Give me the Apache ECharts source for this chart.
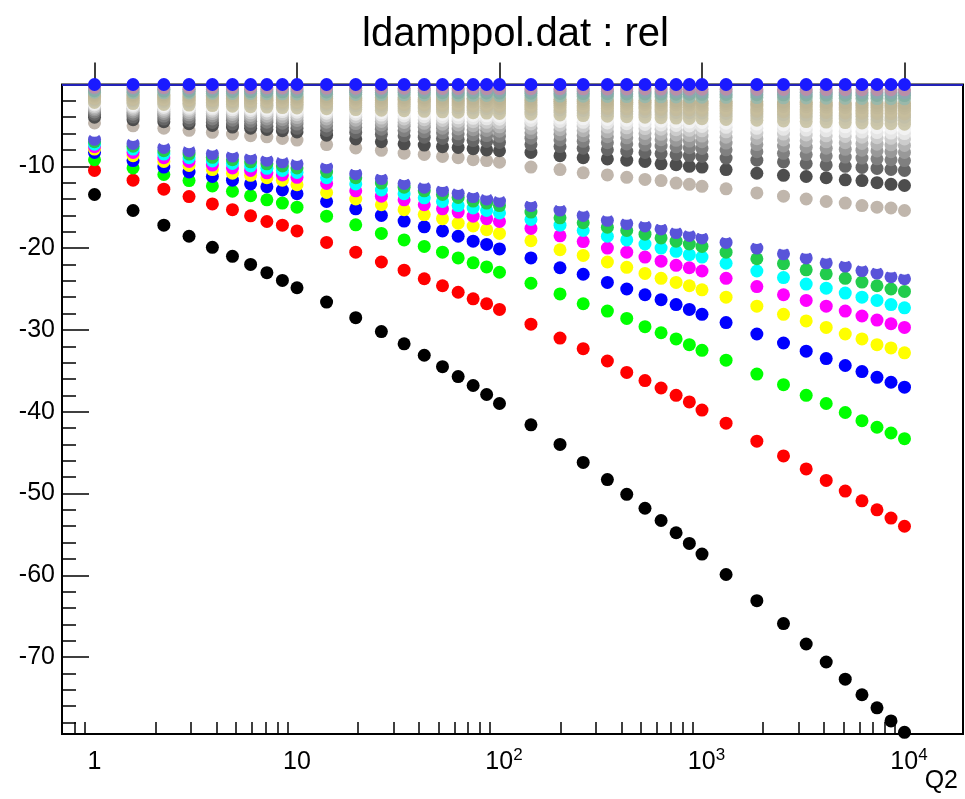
<!DOCTYPE html>
<html>
<head>
<meta charset="utf-8">
<title>ldamppol.dat : rel</title>
<script src="https://cdn.jsdelivr.net/npm/echarts@6.0.0/dist/echarts.min.js"></script>
<style>
  html, body { margin: 0; padding: 0; background: #ffffff; }
  #chart { width: 965px; height: 799px; }
</style>
</head>
<body>
<div id="chart"></div>
<script>
// Q2 grid (x positions of every column of points)
const q2 = [1, 1.55, 2.2, 2.93, 3.82, 4.8, 5.9, 7.1, 8.47, 10,
  14, 19.5, 26.1, 33.8, 42.5, 52.3, 62.5, 74.1, 86.4, 100,
  143, 199, 259, 341, 425, 523, 628, 745, 866, 1000,
  1315, 1866, 2526, 3270, 4106, 5098, 6166, 7314, 8578, 10000];

// relative deviation per curve, one array per curve
const rel01 = [-13.45, -15.4, -17.2, -18.55, -19.9, -21.0, -22.0, -23.0, -23.95, -24.85, -26.6, -28.5, -30.2, -31.7, -33.1, -34.5, -35.7, -36.8, -37.9, -39.0, -41.6, -44.0, -46.2, -48.3, -50.1, -51.8, -53.3, -54.8, -56.1, -57.4, -59.9, -63.1, -65.9, -68.4, -70.6, -72.7, -74.6, -76.2, -77.8, -79.2];
const rel02 = [-10.5, -11.7, -12.8, -13.7, -14.6, -15.3, -16.05, -16.75, -17.2, -17.9, -19.3, -20.5, -21.7, -22.7, -23.75, -24.6, -25.4, -26.2, -26.8, -27.5, -29.3, -31.0, -32.3, -33.8, -35.2, -36.2, -37.1, -38.0, -38.8, -39.8, -41.4, -43.6, -45.4, -47.0, -48.4, -49.7, -50.9, -52.0, -53.0, -54.0];
const rel03 = [-9.2, -10.2, -11.0, -11.75, -12.4, -13.05, -13.6, -14.1, -14.5, -15.0, -16.1, -17.15, -18.2, -19.0, -19.8, -20.5, -21.2, -21.8, -22.3, -22.95, -24.3, -25.6, -26.8, -27.7, -28.6, -29.6, -30.35, -31.1, -31.8, -32.5, -33.7, -35.4, -36.7, -38.0, -39.0, -40.1, -41.1, -41.9, -42.6, -43.3];
const rel04 = [-8.3, -9.3, -10.1, -10.7, -11.25, -11.7, -12.15, -12.5, -12.9, -13.35, -14.3, -15.2, -16.0, -16.7, -17.4, -17.9, -18.55, -19.15, -19.55, -20.1, -21.2, -22.4, -23.2, -24.2, -25.0, -25.7, -26.3, -26.9, -27.5, -28.1, -29.1, -30.5, -31.6, -32.6, -33.5, -34.35, -35.1, -35.8, -36.4, -37.0];
const rel05 = [-7.9, -8.7, -9.4, -9.9, -10.4, -10.85, -11.1, -11.4, -11.7, -12.25, -13.2, -14.0, -14.7, -15.3, -15.9, -16.4, -16.95, -17.3, -17.75, -18.2, -19.1, -20.2, -20.9, -21.7, -22.35, -23.1, -23.7, -24.2, -24.6, -25.1, -26.0, -27.1, -28.1, -28.9, -29.7, -30.5, -31.1, -31.8, -32.2, -32.8];
const rel06 = [-7.6, -8.3, -8.95, -9.4, -9.85, -10.2, -10.5, -10.8, -11.05, -11.35, -12.1, -13.0, -13.65, -14.1, -14.7, -15.2, -15.6, -16.1, -16.4, -16.75, -17.6, -18.5, -19.2, -20.0, -20.5, -21.1, -21.6, -22.1, -22.4, -22.8, -23.7, -24.7, -25.7, -26.4, -27.1, -27.7, -28.3, -28.8, -29.25, -29.7];
const rel07 = [-7.3, -7.9, -8.5, -8.95, -9.35, -9.65, -9.95, -10.25, -10.5, -10.75, -11.4, -12.15, -12.9, -13.35, -13.85, -14.3, -14.8, -15.1, -15.4, -15.7, -16.5, -17.2, -17.85, -18.55, -19.0, -19.5, -20.0, -20.4, -20.8, -21.1, -21.85, -22.8, -23.6, -24.4, -24.9, -25.5, -26.0, -26.4, -26.9, -27.3];
const rel08 = [-7.0, -7.55, -8.1, -8.5, -8.9, -9.2, -9.45, -9.7, -9.95, -10.2, -10.7, -11.4, -12.05, -12.55, -13.0, -13.45, -13.8, -14.25, -14.5, -14.8, -15.6, -16.3, -16.9, -17.45, -17.85, -18.3, -18.75, -19.15, -19.5, -19.8, -20.5, -21.3, -21.9, -22.65, -23.15, -23.7, -24.15, -24.6, -25.0, -25.3];
const rel09 = [-6.7, -7.2, -7.7, -8.1, -8.45, -8.75, -9.0, -9.25, -9.45, -9.7, -10.1, -10.9, -11.5, -12.1, -12.55, -12.95, -13.3, -13.7, -14.0, -14.25, -14.8, -15.35, -16.0, -16.6, -17.0, -17.3, -17.65, -18.1, -18.45, -18.75, -19.3, -20.0, -20.7, -21.2, -21.8, -22.2, -22.75, -23.05, -23.5, -23.75];
const rel10 = [-5.6, -6.1, -6.6, -7.0, -7.3, -7.6, -7.85, -8.1, -8.3, -8.55, -8.95, -9.7, -10.3, -10.9, -11.35, -11.75, -12.1, -12.5, -12.8, -13.05, -13.6, -14.1, -14.75, -15.35, -15.75, -16.05, -16.4, -16.85, -17.2, -17.5, -18.0, -18.7, -19.4, -19.9, -20.5, -20.9, -21.45, -21.75, -22.2, -22.45];
const rel11 = [-4.7, -5.05, -5.35, -5.6, -5.85, -6.05, -6.25, -6.4, -6.6, -6.8, -7.35, -7.75, -8.05, -8.4, -8.55, -8.8, -8.95, -9.2, -9.3, -9.5, -10.1, -10.4, -10.8, -11.05, -11.35, -11.6, -11.75, -12.05, -12.2, -12.45, -12.75, -13.25, -13.65, -14.0, -14.3, -14.5, -14.8, -15.0, -15.1, -15.4];
const rel12 = [-4.0, -4.3, -4.55, -4.8, -5.0, -5.2, -5.35, -5.5, -5.65, -5.8, -6.2, -6.65, -7.0, -7.25, -7.4, -7.6, -7.7, -7.85, -8.0, -8.1, -8.3, -8.7, -8.95, -9.1, -9.25, -9.4, -9.7, -9.8, -10.0, -10.1, -10.4, -10.85, -11.1, -11.25, -11.4, -11.65, -11.75, -12.0, -12.2, -12.35];
const rel13 = [-3.65, -3.98, -4.23, -4.46, -4.64, -4.82, -4.97, -5.11, -5.24, -5.36, -5.62, -5.86, -6.08, -6.27, -6.44, -6.6, -6.73, -6.85, -6.97, -7.08, -7.35, -7.59, -7.79, -7.98, -8.15, -8.31, -8.45, -8.57, -8.69, -8.79, -8.99, -9.25, -9.47, -9.66, -9.83, -10.0, -10.14, -10.26, -10.38, -10.5];
const rel14 = [-3.35, -3.63, -3.86, -4.05, -4.21, -4.36, -4.5, -4.61, -4.73, -4.84, -5.06, -5.27, -5.46, -5.63, -5.78, -5.91, -6.03, -6.13, -6.24, -6.33, -6.56, -6.77, -6.95, -7.11, -7.26, -7.4, -7.52, -7.62, -7.72, -7.81, -7.99, -8.21, -8.41, -8.57, -8.72, -8.87, -8.99, -9.09, -9.2, -9.3];
const rel15 = [-3.1, -3.35, -3.54, -3.71, -3.85, -3.98, -4.1, -4.21, -4.31, -4.4, -4.6, -4.78, -4.95, -5.09, -5.22, -5.34, -5.44, -5.53, -5.62, -5.7, -5.91, -6.09, -6.25, -6.39, -6.52, -6.64, -6.74, -6.83, -6.92, -7.0, -7.16, -7.35, -7.52, -7.66, -7.79, -7.92, -8.03, -8.12, -8.21, -8.3];
const rel16 = [-2.9, -3.12, -3.29, -3.44, -3.56, -3.67, -3.78, -3.87, -3.96, -4.04, -4.21, -4.37, -4.52, -4.64, -4.75, -4.86, -4.95, -5.03, -5.11, -5.18, -5.36, -5.52, -5.65, -5.78, -5.89, -5.99, -6.09, -6.17, -6.24, -6.31, -6.45, -6.62, -6.77, -6.89, -7.01, -7.12, -7.21, -7.29, -7.37, -7.45];
const rel17 = [-2.7, -2.89, -3.04, -3.16, -3.27, -3.37, -3.46, -3.54, -3.62, -3.69, -3.84, -3.97, -4.1, -4.21, -4.31, -4.4, -4.48, -4.55, -4.62, -4.68, -4.83, -4.97, -5.09, -5.2, -5.3, -5.39, -5.47, -5.53, -5.6, -5.66, -5.78, -5.93, -6.06, -6.17, -6.27, -6.36, -6.44, -6.51, -6.58, -6.65];
const rel18 = [-2.5, -2.67, -2.8, -2.91, -3.01, -3.1, -3.17, -3.24, -3.31, -3.38, -3.51, -3.63, -3.74, -3.84, -3.93, -4.0, -4.08, -4.14, -4.2, -4.25, -4.39, -4.51, -4.62, -4.71, -4.8, -4.88, -4.95, -5.01, -5.07, -5.13, -5.23, -5.36, -5.48, -5.57, -5.66, -5.75, -5.82, -5.88, -5.94, -6.0];
const rel19 = [-2.35, -2.5, -2.61, -2.71, -2.79, -2.87, -2.94, -3.0, -3.06, -3.11, -3.23, -3.33, -3.43, -3.52, -3.59, -3.66, -3.72, -3.78, -3.83, -3.88, -4.0, -4.1, -4.2, -4.28, -4.36, -4.42, -4.49, -4.54, -4.59, -4.64, -4.73, -4.84, -4.94, -5.03, -5.1, -5.18, -5.24, -5.29, -5.35, -5.4];
const rel20 = [-2.2, -2.33, -2.43, -2.51, -2.58, -2.65, -2.71, -2.76, -2.82, -2.86, -2.96, -3.06, -3.14, -3.21, -3.28, -3.34, -3.39, -3.44, -3.49, -3.53, -3.63, -3.72, -3.8, -3.88, -3.94, -4.0, -4.06, -4.1, -4.15, -4.19, -4.27, -4.37, -4.45, -4.53, -4.59, -4.66, -4.71, -4.76, -4.8, -4.85];
const rel21 = [-2.05, -2.16, -2.25, -2.33, -2.39, -2.45, -2.5, -2.55, -2.6, -2.64, -2.73, -2.81, -2.88, -2.95, -3.01, -3.06, -3.11, -3.15, -3.19, -3.23, -3.32, -3.4, -3.47, -3.54, -3.6, -3.65, -3.7, -3.74, -3.78, -3.81, -3.88, -3.97, -4.05, -4.11, -4.17, -4.23, -4.28, -4.32, -4.36, -4.4];
const rel22 = [-1.9, -2.0, -2.08, -2.15, -2.21, -2.26, -2.3, -2.35, -2.39, -2.43, -2.5, -2.58, -2.65, -2.7, -2.76, -2.8, -2.85, -2.88, -2.92, -2.95, -3.03, -3.11, -3.17, -3.23, -3.28, -3.33, -3.37, -3.41, -3.44, -3.48, -3.54, -3.62, -3.69, -3.74, -3.8, -3.85, -3.89, -3.93, -3.96, -4.0];
const rel23 = [-1.75, -1.84, -1.91, -1.97, -2.02, -2.07, -2.11, -2.14, -2.18, -2.21, -2.28, -2.35, -2.41, -2.46, -2.5, -2.55, -2.58, -2.62, -2.65, -2.68, -2.75, -2.81, -2.87, -2.92, -2.97, -3.01, -3.05, -3.08, -3.11, -3.14, -3.19, -3.26, -3.32, -3.37, -3.42, -3.47, -3.5, -3.54, -3.57, -3.6];
const rel24 = [-1.6, -1.68, -1.74, -1.79, -1.84, -1.88, -1.92, -1.95, -1.98, -2.01, -2.07, -2.13, -2.19, -2.23, -2.27, -2.31, -2.34, -2.37, -2.4, -2.43, -2.49, -2.55, -2.6, -2.64, -2.69, -2.72, -2.76, -2.78, -2.81, -2.84, -2.89, -2.95, -3.0, -3.05, -3.09, -3.13, -3.16, -3.19, -3.22, -3.25];
const rel25 = [-1.45, -1.52, -1.57, -1.62, -1.66, -1.7, -1.73, -1.76, -1.79, -1.81, -1.87, -1.92, -1.97, -2.01, -2.04, -2.07, -2.1, -2.13, -2.15, -2.18, -2.23, -2.28, -2.33, -2.37, -2.4, -2.44, -2.47, -2.49, -2.52, -2.54, -2.58, -2.64, -2.68, -2.72, -2.76, -2.8, -2.82, -2.85, -2.88, -2.9];
const rel26 = [-1.3, -1.36, -1.41, -1.45, -1.49, -1.52, -1.55, -1.58, -1.6, -1.63, -1.67, -1.72, -1.76, -1.8, -1.83, -1.86, -1.89, -1.91, -1.93, -1.95, -2.0, -2.05, -2.09, -2.12, -2.16, -2.18, -2.21, -2.23, -2.26, -2.28, -2.31, -2.36, -2.41, -2.44, -2.47, -2.51, -2.53, -2.56, -2.58, -2.6];
const rel27 = [-1.15, -1.21, -1.25, -1.29, -1.32, -1.35, -1.37, -1.39, -1.42, -1.44, -1.48, -1.52, -1.56, -1.59, -1.62, -1.65, -1.67, -1.69, -1.71, -1.73, -1.77, -1.81, -1.85, -1.88, -1.91, -1.93, -1.96, -1.98, -2.0, -2.01, -2.05, -2.09, -2.13, -2.16, -2.19, -2.22, -2.24, -2.26, -2.28, -2.3];
const rel28 = [-0.95, -0.99, -1.02, -1.04, -1.07, -1.09, -1.1, -1.12, -1.14, -1.15, -1.18, -1.21, -1.23, -1.26, -1.28, -1.29, -1.31, -1.32, -1.34, -1.35, -1.38, -1.41, -1.43, -1.46, -1.48, -1.49, -1.51, -1.52, -1.54, -1.55, -1.57, -1.6, -1.63, -1.65, -1.67, -1.69, -1.71, -1.72, -1.74, -1.75];
const rel29 = [-0.75, -0.78, -0.8, -0.82, -0.84, -0.85, -0.87, -0.88, -0.89, -0.9, -0.92, -0.94, -0.96, -0.98, -1.0, -1.01, -1.02, -1.03, -1.04, -1.05, -1.07, -1.1, -1.11, -1.13, -1.15, -1.16, -1.17, -1.18, -1.19, -1.2, -1.22, -1.24, -1.26, -1.28, -1.29, -1.31, -1.32, -1.33, -1.34, -1.35];
const rel30 = [-0.55, -0.57, -0.59, -0.6, -0.62, -0.63, -0.64, -0.65, -0.65, -0.66, -0.68, -0.7, -0.71, -0.72, -0.73, -0.74, -0.75, -0.76, -0.77, -0.78, -0.79, -0.81, -0.82, -0.83, -0.85, -0.86, -0.86, -0.87, -0.88, -0.89, -0.9, -0.92, -0.93, -0.95, -0.96, -0.97, -0.98, -0.98, -0.99, -1.0];
const rel31 = [-0.35, -0.36, -0.38, -0.39, -0.39, -0.4, -0.41, -0.41, -0.42, -0.43, -0.44, -0.45, -0.46, -0.46, -0.47, -0.48, -0.49, -0.49, -0.5, -0.5, -0.51, -0.52, -0.53, -0.54, -0.55, -0.55, -0.56, -0.57, -0.57, -0.58, -0.58, -0.6, -0.61, -0.61, -0.62, -0.63, -0.63, -0.64, -0.64, -0.65];
const rel32 = [0, 0, 0, 0, 0, 0, 0, 0, 0, 0, 0, 0, 0, 0, 0, 0, 0, 0, 0, 0, 0, 0, 0, 0, 0, 0, 0, 0, 0, 0, 0, 0, 0, 0, 0, 0, 0, 0, 0, 0];

// marker colour of each curve, in drawing order
const curveColors = ['#000000', '#ff0000', '#00ff00', '#0000ff', '#ffff00', '#ff00ff', '#00ffff', '#22cc4c',
  '#5954d9', '#ffffff', '#c0b6ac', '#4d4d4d', '#666666', '#808080', '#999999', '#b3b3b3',
  '#cccccc', '#e6e6e6', '#f2f2f2', '#ccc7ab', '#c9c4a9', '#c2bfa8', '#c4bc9e', '#c6bd9c',
  '#c2b99a', '#bfb797', '#bcb495', '#9ab8aa', '#85b0a3', '#8aa8b0', '#b890a8', '#1a1aff'];
const curveValues = [rel01, rel02, rel03, rel04, rel05, rel06, rel07, rel08, rel09, rel10,
  rel11, rel12, rel13, rel14, rel15, rel16, rel17, rel18, rel19, rel20, rel21, rel22,
  rel23, rel24, rel25, rel26, rel27, rel28, rel29, rel30, rel31, rel32];

// axis tick / label values
const xMajorTicks = [1, 10, 100, 1000, 10000];
const yMajorTicks = [-10, -20, -30, -40, -50, -60, -70];

const xMinorTicks = [];
for (let d = 0.1; d < 10000; d *= 10) {
  for (let m = 2; m <= 9; m++) {
    const v = Math.round(m * d * 1000) / 1000;
    if (v > 0.75) xMinorTicks.push(v);
  }
}
const yMinorTicks = [];
for (let v = -2; v > -79.4; v -= 2) {
  if (v % 10 !== 0) yMinorTicks.push(v);
}

const FONT = '"Liberation Sans", Arial, Helvetica, sans-serif';
const X_MIN = 0.691, X_MAX = 19450;
const Y_MIN = -79.4, Y_MAX = 0;
const GRID_TOP = 84.5, GRID_BOTTOM = 65, CANVAS_H = 799;
const PLOT_H = CANVAS_H - GRID_TOP - GRID_BOTTOM;

function xLabel(v) {
  const e = Math.round(Math.log10(v));
  if (e === 0) return '{b|1}';
  if (e === 1) return '{b|10}';
  return '{g|}{b|10}{s|' + e + '}';
}

const series = curveValues.map(function (vals, i) {
  const s = {
    type: 'scatter',
    name: 'curve' + (i + 1),
    xAxisIndex: 0,
    yAxisIndex: 0,
    symbol: 'circle',
    symbolSize: 13,
    silent: true,
    z: 2 + i,
    itemStyle: { color: curveColors[i], opacity: 1, borderWidth: 0 },
    data: q2.map(function (q, k) { return [q, vals[k]]; })
  };
  if (i === 0) {
    s.markLine = {
      silent: true,
      symbol: 'none',
      label: { show: false },
      lineStyle: { color: '#2222b8', width: 2, type: 'solid' },
      data: [{ yAxis: 0 }]
    };
  }
  return s;
});

const chart = echarts.init(document.getElementById('chart'), null, { renderer: 'canvas' });
chart.setOption({
  animation: false,
  backgroundColor: '#ffffff',
  title: {
    text: 'ldamppol.dat : rel',
    left: 357,
    top: 10,
    textStyle: { fontFamily: FONT, fontSize: 40, fontWeight: 'normal', color: '#000000' }
  },
  grid: {
    left: 62, right: 2, top: GRID_TOP, bottom: GRID_BOTTOM,
    show: true, borderColor: '#000000', borderWidth: 2, backgroundColor: 'transparent'
  },
  xAxis: [
    {
      type: 'log', logBase: 10, min: X_MIN, max: X_MAX, position: 'bottom',
      axisLine: { show: false },
      splitLine: { show: false },
      axisTick: { show: true, inside: true, length: 22, customValues: xMajorTicks,
        lineStyle: { color: '#000000', width: 1.5 } },
      axisLabel: {
        show: true, customValues: xMajorTicks, margin: 13, formatter: xLabel,
        showMinLabel: true, showMaxLabel: true,
        rich: {
          b: { fontFamily: FONT, fontSize: 25, color: '#000000', lineHeight: 28, verticalAlign: 'bottom' },
          s: { fontFamily: FONT, fontSize: 17, color: '#000000', lineHeight: 14, verticalAlign: 'top' },
          g: { width: 9 }
        }
      }
    },
    {
      // minor decade ticks: a top-side axis shifted down onto the bottom edge,
      // its outward ticks then point up into the frame
      type: 'log', logBase: 10, min: X_MIN, max: X_MAX, position: 'top', offset: -PLOT_H,
      axisLine: { show: false },
      splitLine: { show: false },
      axisTick: { show: true, inside: false, length: 12, customValues: xMinorTicks,
        lineStyle: { color: '#000000', width: 1.5 } },
      axisLabel: { show: false }
    }
  ],
  yAxis: [
    {
      type: 'value', min: Y_MIN, max: Y_MAX, position: 'left',
      axisLine: { show: false },
      splitLine: { show: false },
      axisTick: { show: true, inside: true, length: 27, customValues: yMajorTicks,
        lineStyle: { color: '#000000', width: 1.5 } },
      axisLabel: { show: true, customValues: yMajorTicks, margin: 7,
        fontFamily: FONT, fontSize: 25, color: '#000000' }
    },
    {
      type: 'value', min: Y_MIN, max: Y_MAX, position: 'left',
      axisLine: { show: false },
      splitLine: { show: false },
      axisTick: { show: true, inside: true, length: 14, customValues: yMinorTicks,
        lineStyle: { color: '#000000', width: 1.5 } },
      axisLabel: { show: false }
    }
  ],
  graphic: [
    {
      type: 'text', right: 7, top: 769,
      style: { text: 'Q2', font: '25px ' + FONT, fill: '#000000' }
    }
  ],
  series: series
});
</script>
</body>
</html>
